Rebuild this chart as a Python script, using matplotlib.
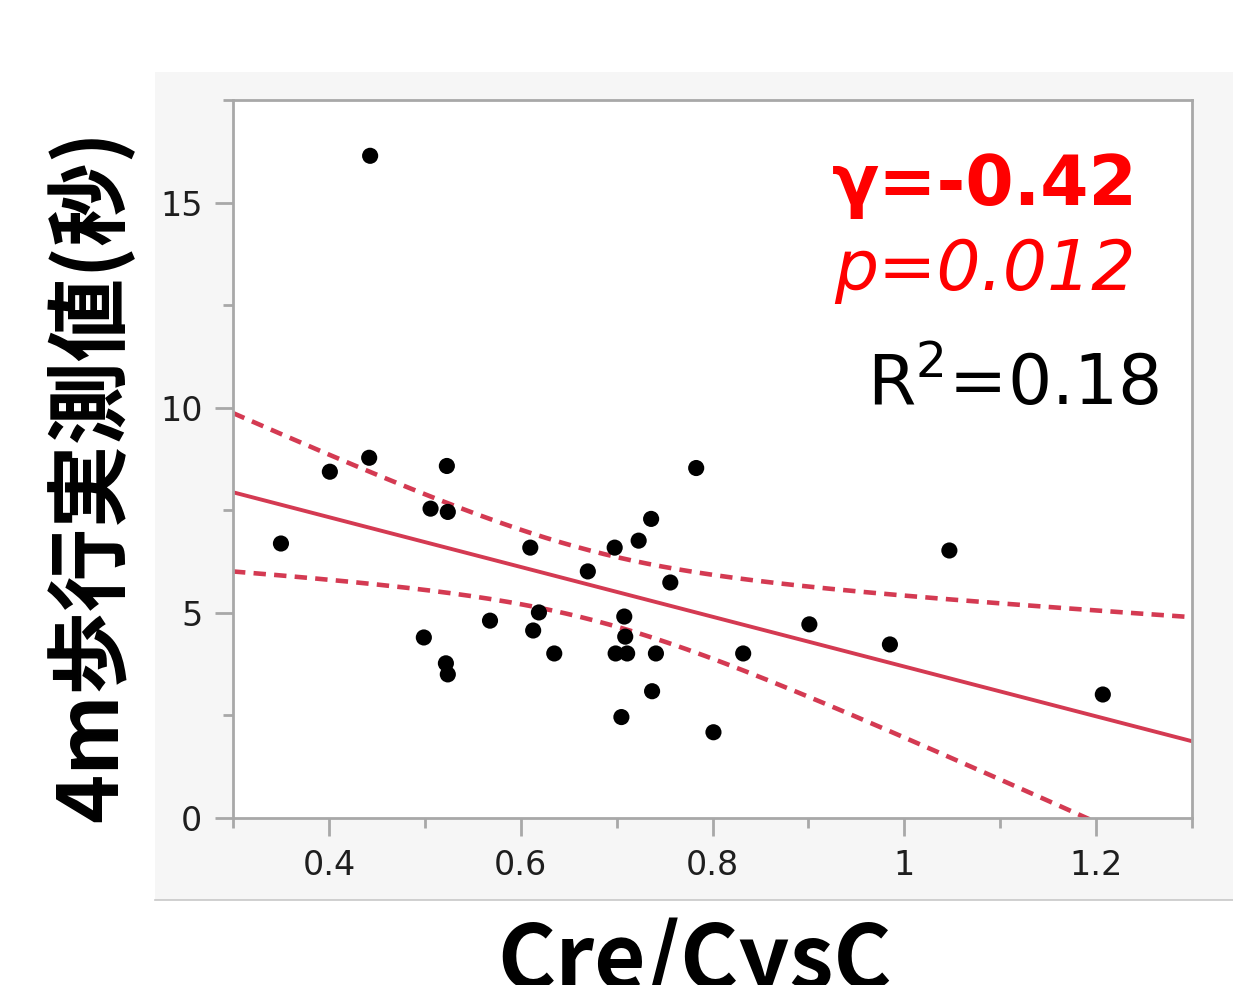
import matplotlib
matplotlib.use('Agg')
import matplotlib.pyplot as plt
from matplotlib.patches import Rectangle
from matplotlib.ticker import MultipleLocator
import numpy as np

plt.rcParams['font.family'] = ['DejaVu Sans', 'Noto Sans CJK JP']

# Cre/CysC vs 4m walking time (seconds)
cre_cysc = [0.443, 0.350, 0.401, 0.442, 0.523, 0.506, 0.524, 0.499, 0.522, 0.524,
            0.568, 0.610, 0.613, 0.619, 0.635, 0.670, 0.698, 0.723, 0.736, 0.708,
            0.709, 0.699, 0.711, 0.741, 0.756, 0.737, 0.705, 0.783, 0.801, 0.832,
            0.901, 0.985, 1.047, 1.207]
walk_time = [16.14, 6.69, 8.44, 8.78, 8.58, 7.54, 7.46, 4.40, 3.77, 3.50,
             4.81, 6.59, 4.57, 5.01, 4.01, 6.01, 6.59, 6.76, 7.29, 4.91,
             4.42, 4.01, 4.01, 4.01, 5.74, 3.09, 2.46, 8.53, 2.09, 4.01,
             4.72, 4.23, 6.52, 3.01]

stat_labels = ['γ=-0.42', 'p=0.012', 'R$^{2}$=0.18']
y_label = '4m歩行実測値(秒)'
x_label = 'Cre/CysC'

x = np.array(cre_cysc)
y = np.array(walk_time)
n = len(x)
slope, intercept = np.polyfit(x, y, 1)
resid = y - (slope * x + intercept)
s = np.sqrt(np.sum(resid ** 2) / (n - 2))
sxx = np.sum((x - x.mean()) ** 2)
t_crit = 2.037  # t(0.975, df=32)

xs = np.linspace(0.3, 1.3, 200)
fit = slope * xs + intercept
half = t_crit * s * np.sqrt(1 / n + (xs - x.mean()) ** 2 / sxx)

fig = plt.figure(figsize=(12.33, 9.85), dpi=100)
fig.patches.append(Rectangle((155 / 1233, 1 - 900 / 985), 1 - 155 / 1233, (900 - 72) / 985,
                             transform=fig.transFigure, facecolor='#f6f6f6',
                             edgecolor='none', zorder=-10))
fig.lines.append(plt.Line2D([155 / 1233, 1], [1 - 900 / 985] * 2, transform=fig.transFigure,
                            color='#c8c8c8', lw=1.2, zorder=-9))

ax = fig.add_axes([233 / 1233, 1 - 818 / 985, (1192 - 233) / 1233, (818 - 100) / 985])
ax.set_facecolor('white')

line_color = '#d43a52'
ax.plot(xs, fit, color=line_color, lw=2.8, zorder=2)
ax.plot(xs, fit + half, color=line_color, lw=3.3, ls=(0, (2.7, 1.8)), zorder=2)
ax.plot(xs, fit - half, color=line_color, lw=3.3, ls=(0, (2.7, 1.8)), zorder=2)
ax.scatter(x, y, s=135, color='black', zorder=3, edgecolors='none')

ax.set_xlim(0.3, 1.3)
ax.set_ylim(0, 17.5)
ax.xaxis.set_minor_locator(MultipleLocator(0.1))
ax.yaxis.set_minor_locator(MultipleLocator(2.5))
ax.set_xticks([0.4, 0.6, 0.8, 1.0, 1.2])
ax.set_xticklabels(['0.4', '0.6', '0.8', '1', '1.2'])
ax.set_yticks([0, 5, 10, 15])
ax.set_yticklabels(['0', '5', '10', '15'])

for sp in ax.spines.values():
    sp.set_color('#a8a8a8')
    sp.set_linewidth(2)
ax.tick_params(which='major', length=13, width=2, color='#a8a8a8',
               labelsize=24, labelcolor='#1e1e1e', pad=9)
ax.tick_params(which='minor', length=7, width=2, color='#a8a8a8')

ax.text(0.943, 0.854, stat_labels[0], transform=ax.transAxes, ha='right', va='baseline',
        fontsize=50, fontweight='bold', color='#ff0000')
ax.text(0.941, 0.735, stat_labels[1], transform=ax.transAxes, ha='right', va='baseline',
        fontsize=50, fontstyle='italic', color='#ff0000')
ax.text(0.966, 0.575, stat_labels[2], transform=ax.transAxes, ha='right', va='baseline',
        fontsize=50, color='black')

fig.text(90 / 1233, 1 - 822 / 985, y_label, rotation=90, ha='center', va='bottom',
         fontsize=60, fontweight='bold', family=['Noto Sans CJK JP', 'DejaVu Sans'])
fig.text(695 / 1233, 1 - 989 / 985, x_label, ha='center', va='baseline',
         fontsize=64, fontweight='bold', family=['Noto Sans CJK JP', 'DejaVu Sans'])

fig.savefig('out.png', dpi=100)
plt.close(fig)
